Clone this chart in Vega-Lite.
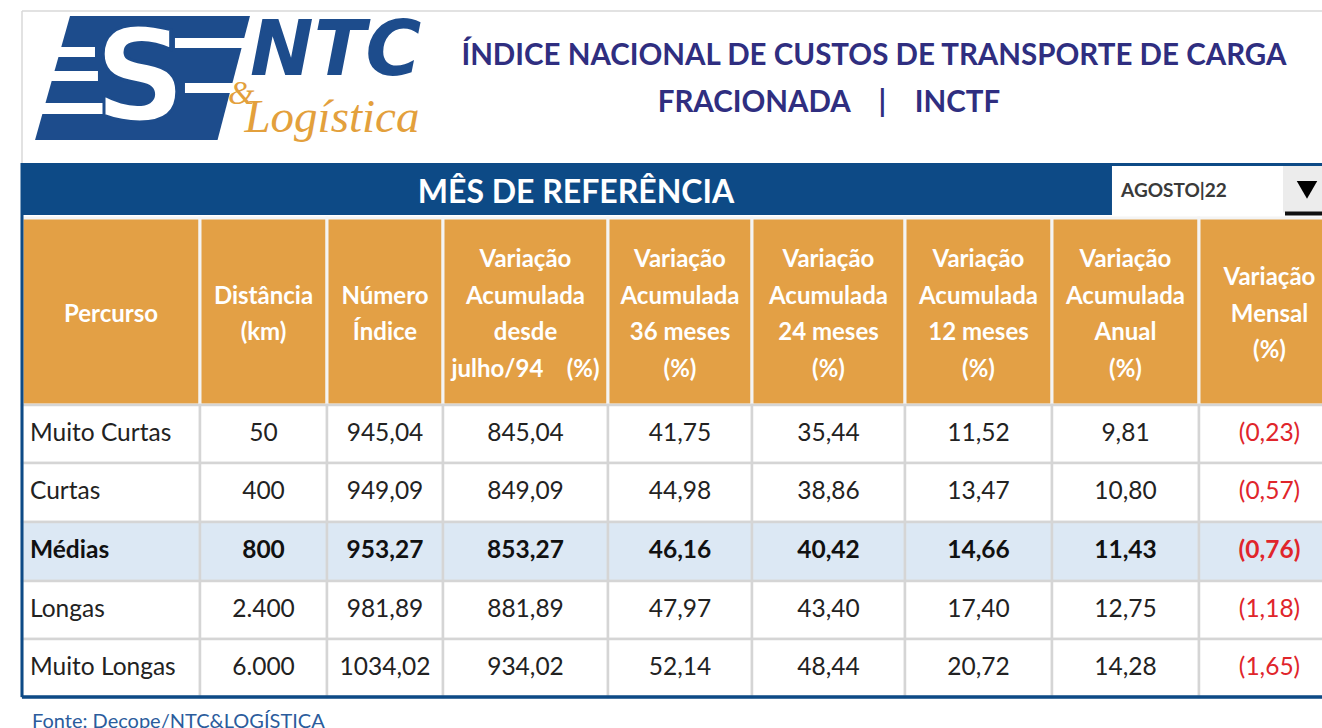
{
  "$schema": "https://vega.github.io/schema/vega-lite/v6.json",
  "width": 1322,
  "height": 728,
  "padding": 0,
  "autosize": "none",
  "background": "#ffffff",
  "config": {
    "view": {"stroke": null},
    "axis": {"disable": true},
    "locale": {"number": {"decimal": ",", "thousands": ".", "grouping": [3], "currency": ["R$ ", ""]}}
  },
  "datasets": {
    "tabela": [
      {"Percurso": "Muito Curtas", "Distancia": 50, "Numero": 945.04, "VarJul94": 845.04, "Var36": 41.75, "Var24": 35.44, "Var12": 11.52, "VarAnual": 9.81, "VarMensal": -0.23},
      {"Percurso": "Curtas", "Distancia": 400, "Numero": 949.09, "VarJul94": 849.09, "Var36": 44.98, "Var24": 38.86, "Var12": 13.47, "VarAnual": 10.80, "VarMensal": -0.57},
      {"Percurso": "Médias", "Distancia": 800, "Numero": 953.27, "VarJul94": 853.27, "Var36": 46.16, "Var24": 40.42, "Var12": 14.66, "VarAnual": 11.43, "VarMensal": -0.76},
      {"Percurso": "Longas", "Distancia": 2400, "Numero": 981.89, "VarJul94": 881.89, "Var36": 47.97, "Var24": 43.40, "Var12": 17.40, "VarAnual": 12.75, "VarMensal": -1.18},
      {"Percurso": "Muito Longas", "Distancia": 6000, "Numero": 1034.02, "VarJul94": 934.02, "Var36": 52.14, "Var24": 48.44, "Var12": 20.72, "VarAnual": 14.28, "VarMensal": -1.65}
    ],
    "colunas": [
      {"key": "Percurso", "c": 1, "fmt": "", "cabecalho": "Percurso"},
      {"key": "Distancia", "c": 2, "fmt": ",d", "cabecalho": "Distância\n(km)"},
      {"key": "Numero", "c": 3, "fmt": ".2f", "cabecalho": "Número\nÍndice"},
      {"key": "VarJul94", "c": 4, "fmt": ".2f", "cabecalho": "Variação\nAcumulada\ndesde\njulho/94\u00a0\u00a0\u00a0\u00a0(%)"},
      {"key": "Var36", "c": 5, "fmt": ".2f", "cabecalho": "Variação\nAcumulada\n36 meses\n(%)"},
      {"key": "Var24", "c": 6, "fmt": ".2f", "cabecalho": "Variação\nAcumulada\n24 meses\n(%)"},
      {"key": "Var12", "c": 7, "fmt": ".2f", "cabecalho": "Variação\nAcumulada\n12 meses\n(%)"},
      {"key": "VarAnual", "c": 8, "fmt": ".2f", "cabecalho": "Variação\nAcumulada\nAnual\n(%)"},
      {"key": "VarMensal", "c": 9, "fmt": "(.2f", "cabecalho": "Variação\nMensal\n(%)"}
    ]
  },
  "resolve": {"scale": {"x": "independent", "y": "independent"}},
  "layer": [
    {
      "data": {"values": [{}]},
      "mark": {"type": "rule", "color": "#d9d9d9", "strokeWidth": 1.5},
      "encoding": {
        "x": {"datum": 1, "type": "quantitative", "scale": {"domain": [0,1,2,3,4,5,6,7,8,9,10], "range": [0,22,200,327,443,608,752,905,1052,1199,1340], "zero": false, "nice": false}},
        "x2": {"datum": 10},
        "y": {"datum": -2.933, "type": "quantitative", "scale": {"domain": [-3,-2,-1,0,1,2,3,4,5,6,7], "range": [0,163,215,218,405,463,522,581,639,697,728], "zero": false, "nice": false}}
      }
    },
    {
      "data": {"values": [{}]},
      "mark": {"type": "rule", "color": "#d9d9d9", "strokeWidth": 1.5},
      "encoding": {
        "x": {"datum": 1, "type": "quantitative", "scale": {"domain": [0,1,2,3,4,5,6,7,8,9,10], "range": [0,22,200,327,443,608,752,905,1052,1199,1340], "zero": false, "nice": false}},
        "y": {"datum": -2.933, "type": "quantitative", "scale": {"domain": [-3,-2,-1,0,1,2,3,4,5,6,7], "range": [0,163,215,218,405,463,522,581,639,697,728], "zero": false, "nice": false}},
        "y2": {"datum": -2}
      }
    },
    {
      "data": {"values": [{}]},
      "mark": {"type": "point", "shape": "M-0.659,-0.564L0.977,-0.564L0.682,0.564L-0.977,0.564Z", "size": 48400, "filled": true, "color": "#1d4c8c", "opacity": 1, "strokeWidth": 0},
      "encoding": {
        "x": {"datum": 1.677, "type": "quantitative", "scale": {"domain": [0,1,2,3,4,5,6,7,8,9,10], "range": [0,22,200,327,443,608,752,905,1052,1199,1340], "zero": false, "nice": false}},
        "y": {"datum": -2.5215, "type": "quantitative", "scale": {"domain": [-3,-2,-1,0,1,2,3,4,5,6,7], "range": [0,163,215,218,405,463,522,581,639,697,728], "zero": false, "nice": false}}
      }
    },
    {
      "data": {"values": [{}]},
      "mark": {"type": "point", "shape": "M-0.795,-0.282H-0.432V-0.191H-0.795Z M-0.859,-0.064H-0.405V0.027H-0.859Z M0.295,-0.364H0.995V-0.273H0.295Z M0.386,0.045H0.932V0.136H0.386Z M-0.932,0.227H0.068V0.327H-0.932Z", "size": 48400, "filled": true, "color": "#ffffff", "opacity": 1, "strokeWidth": 0},
      "encoding": {
        "x": {"datum": 1.677, "type": "quantitative", "scale": {"domain": [0,1,2,3,4,5,6,7,8,9,10], "range": [0,22,200,327,443,608,752,905,1052,1199,1340], "zero": false, "nice": false}},
        "y": {"datum": -2.5215, "type": "quantitative", "scale": {"domain": [-3,-2,-1,0,1,2,3,4,5,6,7], "range": [0,163,215,218,405,463,522,581,639,697,728], "zero": false, "nice": false}}
      }
    },
    {
      "data": {"values": [{}]},
      "mark": {"type": "text", "text": "S", "font": "DejaVu Sans", "fontWeight": "bold", "fontSize": 128, "fill": "#ffffff", "stroke": "#1d4c8c", "strokeWidth": 3, "align": "center", "baseline": "alphabetic"},
      "encoding": {
        "x": {"datum": 1.663, "type": "quantitative", "scale": {"domain": [0,1,2,3,4,5,6,7,8,9,10], "range": [0,22,200,327,443,608,752,905,1052,1199,1340], "zero": false, "nice": false}},
        "y": {"datum": -2.264, "type": "quantitative", "scale": {"domain": [-3,-2,-1,0,1,2,3,4,5,6,7], "range": [0,163,215,218,405,463,522,581,639,697,728], "zero": false, "nice": false}}
      }
    },
    {
      "data": {"values": [{}]},
      "mark": {"type": "text", "text": "NTC", "font": "DejaVu Sans", "fontWeight": "bold", "fontStyle": "italic", "fontSize": 76, "fill": "#1d4c8c", "align": "left", "baseline": "alphabetic"},
      "encoding": {
        "x": {"datum": 2.394, "type": "quantitative", "scale": {"domain": [0,1,2,3,4,5,6,7,8,9,10], "range": [0,22,200,327,443,608,752,905,1052,1199,1340], "zero": false, "nice": false}},
        "y": {"datum": -2.54, "type": "quantitative", "scale": {"domain": [-3,-2,-1,0,1,2,3,4,5,6,7], "range": [0,163,215,218,405,463,522,581,639,697,728], "zero": false, "nice": false}}
      }
    },
    {
      "data": {"values": [{}]},
      "mark": {"type": "text", "text": "&", "font": "Liberation Serif", "fontStyle": "italic", "fontSize": 34, "fill": "#e3a03c", "align": "left", "baseline": "alphabetic"},
      "encoding": {
        "x": {"datum": 2.22, "type": "quantitative", "scale": {"domain": [0,1,2,3,4,5,6,7,8,9,10], "range": [0,22,200,327,443,608,752,905,1052,1199,1340], "zero": false, "nice": false}},
        "y": {"datum": -2.36, "type": "quantitative", "scale": {"domain": [-3,-2,-1,0,1,2,3,4,5,6,7], "range": [0,163,215,218,405,463,522,581,639,697,728], "zero": false, "nice": false}}
      }
    },
    {
      "data": {"values": [{}]},
      "mark": {"type": "text", "text": "Logística", "font": "Liberation Serif", "fontStyle": "italic", "fontSize": 47, "fill": "#e3a03c", "align": "left", "baseline": "alphabetic"},
      "encoding": {
        "x": {"datum": 2.35, "type": "quantitative", "scale": {"domain": [0,1,2,3,4,5,6,7,8,9,10], "range": [0,22,200,327,443,608,752,905,1052,1199,1340], "zero": false, "nice": false}},
        "y": {"datum": -2.19, "type": "quantitative", "scale": {"domain": [-3,-2,-1,0,1,2,3,4,5,6,7], "range": [0,163,215,218,405,463,522,581,639,697,728], "zero": false, "nice": false}}
      }
    },
    {
      "data": {"values": [{}]},
      "mark": {"type": "text", "text": "ÍNDICE NACIONAL DE CUSTOS DE TRANSPORTE DE CARGA", "font": "Lato", "fontWeight": "bold", "fontSize": 29.5, "fill": "#2f2e80", "align": "center", "baseline": "alphabetic"},
      "encoding": {
        "x": {"datum": 6.797, "type": "quantitative", "scale": {"domain": [0,1,2,3,4,5,6,7,8,9,10], "range": [0,22,200,327,443,608,752,905,1052,1199,1340], "zero": false, "nice": false}},
        "y": {"datum": -2.601, "type": "quantitative", "scale": {"domain": [-3,-2,-1,0,1,2,3,4,5,6,7], "range": [0,163,215,218,405,463,522,581,639,697,728], "zero": false, "nice": false}}
      }
    },
    {
      "data": {"values": [{}]},
      "mark": {"type": "text", "text": "FRACIONADA\u00a0\u00a0\u00a0\u00a0|\u00a0\u00a0\u00a0\u00a0INCTF", "font": "Lato", "fontWeight": "bold", "fontSize": 29.5, "fill": "#2f2e80", "align": "center", "baseline": "alphabetic"},
      "encoding": {
        "x": {"datum": 6.503, "type": "quantitative", "scale": {"domain": [0,1,2,3,4,5,6,7,8,9,10], "range": [0,22,200,327,443,608,752,905,1052,1199,1340], "zero": false, "nice": false}},
        "y": {"datum": -2.313, "type": "quantitative", "scale": {"domain": [-3,-2,-1,0,1,2,3,4,5,6,7], "range": [0,163,215,218,405,463,522,581,639,697,728], "zero": false, "nice": false}}
      }
    },
    {
      "data": {"values": [{}]},
      "mark": {"type": "rect", "fill": "#0d4a86"},
      "encoding": {
        "x": {"datum": 1, "type": "quantitative", "scale": {"domain": [0,1,2,3,4,5,6,7,8,9,10], "range": [0,22,200,327,443,608,752,905,1052,1199,1340], "zero": false, "nice": false}},
        "x2": {"datum": 10},
        "y": {"datum": -2, "type": "quantitative", "scale": {"domain": [-3,-2,-1,0,1,2,3,4,5,6,7], "range": [0,163,215,218,405,463,522,581,639,697,728], "zero": false, "nice": false}},
        "y2": {"datum": -1}
      }
    },
    {
      "data": {"values": [{}]},
      "mark": {"type": "text", "text": "MÊS DE REFERÊNCIA", "font": "Lato", "fontWeight": "bold", "fontSize": 32, "fill": "#ffffff", "align": "center", "baseline": "alphabetic"},
      "encoding": {
        "x": {"datum": 4.806, "type": "quantitative", "scale": {"domain": [0,1,2,3,4,5,6,7,8,9,10], "range": [0,22,200,327,443,608,752,905,1052,1199,1340], "zero": false, "nice": false}},
        "y": {"datum": -1.231, "type": "quantitative", "scale": {"domain": [-3,-2,-1,0,1,2,3,4,5,6,7], "range": [0,163,215,218,405,463,522,581,639,697,728], "zero": false, "nice": false}}
      }
    },
    {
      "data": {"values": [{}]},
      "mark": {"type": "rect", "fill": "#ffffff"},
      "encoding": {
        "x": {"datum": 8.408, "type": "quantitative", "scale": {"domain": [0,1,2,3,4,5,6,7,8,9,10], "range": [0,22,200,327,443,608,752,905,1052,1199,1340], "zero": false, "nice": false}},
        "x2": {"datum": 10},
        "y": {"datum": -1.94, "type": "quantitative", "scale": {"domain": [-3,-2,-1,0,1,2,3,4,5,6,7], "range": [0,163,215,218,405,463,522,581,639,697,728], "zero": false, "nice": false}},
        "y2": {"datum": -1}
      }
    },
    {
      "data": {"values": [{}]},
      "mark": {"type": "rect", "fill": "#ececec"},
      "encoding": {
        "x": {"datum": 9.596, "type": "quantitative", "scale": {"domain": [0,1,2,3,4,5,6,7,8,9,10], "range": [0,22,200,327,443,608,752,905,1052,1199,1340], "zero": false, "nice": false}},
        "x2": {"datum": 10},
        "y": {"datum": -1.94, "type": "quantitative", "scale": {"domain": [-3,-2,-1,0,1,2,3,4,5,6,7], "range": [0,163,215,218,405,463,522,581,639,697,728], "zero": false, "nice": false}},
        "y2": {"datum": -1.05}
      }
    },
    {
      "data": {"values": [{}]},
      "mark": {"type": "rule", "color": "#111111", "strokeWidth": 4},
      "encoding": {
        "x": {"datum": 9.61, "type": "quantitative", "scale": {"domain": [0,1,2,3,4,5,6,7,8,9,10], "range": [0,22,200,327,443,608,752,905,1052,1199,1340], "zero": false, "nice": false}},
        "x2": {"datum": 10},
        "y": {"datum": -1.03, "type": "quantitative", "scale": {"domain": [-3,-2,-1,0,1,2,3,4,5,6,7], "range": [0,163,215,218,405,463,522,581,639,697,728], "zero": false, "nice": false}}
      }
    },
    {
      "data": {"values": [{}]},
      "mark": {"type": "point", "shape": "triangle-down", "size": 420, "filled": true, "color": "#000000", "opacity": 1},
      "encoding": {
        "x": {"datum": 9.766, "type": "quantitative", "scale": {"domain": [0,1,2,3,4,5,6,7,8,9,10], "range": [0,22,200,327,443,608,752,905,1052,1199,1340], "zero": false, "nice": false}},
        "y": {"datum": -1.481, "type": "quantitative", "scale": {"domain": [-3,-2,-1,0,1,2,3,4,5,6,7], "range": [0,163,215,218,405,463,522,581,639,697,728], "zero": false, "nice": false}}
      }
    },
    {
      "data": {"values": [{}]},
      "mark": {"type": "text", "text": "AGOSTO|22", "font": "Lato", "fontWeight": "bold", "fontSize": 19, "fill": "#3a3a3a", "align": "left", "baseline": "alphabetic"},
      "encoding": {
        "x": {"datum": 8.47, "type": "quantitative", "scale": {"domain": [0,1,2,3,4,5,6,7,8,9,10], "range": [0,22,200,327,443,608,752,905,1052,1199,1340], "zero": false, "nice": false}},
        "y": {"datum": -1.346, "type": "quantitative", "scale": {"domain": [-3,-2,-1,0,1,2,3,4,5,6,7], "range": [0,163,215,218,405,463,522,581,639,697,728], "zero": false, "nice": false}}
      }
    },
    {
      "data": {"name": "colunas"},
      "transform": [{"calculate": "datum.c + 1", "as": "c1"}],
      "mark": {"type": "rect", "fill": "#e3a045", "stroke": "#f4f4f4", "strokeWidth": 3},
      "encoding": {
        "x": {"field": "c", "type": "quantitative", "scale": {"domain": [0,1,2,3,4,5,6,7,8,9,10], "range": [0,22,200,327,443,608,752,905,1052,1199,1340], "zero": false, "nice": false}},
        "x2": {"field": "c1"},
        "y": {"datum": 0, "type": "quantitative", "scale": {"domain": [-3,-2,-1,0,1,2,3,4,5,6,7], "range": [0,163,215,218,405,463,522,581,639,697,728], "zero": false, "nice": false}},
        "y2": {"datum": 1}
      }
    },
    {
      "data": {"name": "colunas"},
      "transform": [
        {"calculate": "datum.c + 0.5", "as": "cm"},
        {"calculate": "0.5187 - (length(split(datum.cabecalho, '\\n')) - 1) * 0.09759", "as": "yh"}
      ],
      "mark": {"type": "text", "font": "Lato", "fontWeight": "bold", "fontSize": 24, "fill": "#ffffff", "lineBreak": "\n", "lineHeight": 36.5, "align": "center", "baseline": "middle"},
      "encoding": {
        "x": {"field": "cm", "type": "quantitative", "scale": {"domain": [0,1,2,3,4,5,6,7,8,9,10], "range": [0,22,200,327,443,608,752,905,1052,1199,1340], "zero": false, "nice": false}},
        "y": {"field": "yh", "type": "quantitative", "scale": {"domain": [-3,-2,-1,0,1,2,3,4,5,6,7], "range": [0,163,215,218,405,463,522,581,639,697,728], "zero": false, "nice": false}},
        "text": {"field": "cabecalho", "type": "nominal"}
      }
    },
    {
      "data": {"name": "tabela"},
      "transform": [
        {"window": [{"op": "row_number", "as": "n"}]},
        {"fold": ["Percurso", "Distancia", "Numero", "VarJul94", "Var36", "Var24", "Var12", "VarAnual", "VarMensal"], "as": ["key", "valor"]},
        {"lookup": "key", "from": {"data": {"name": "colunas"}, "key": "key", "fields": ["c"]}},
        {"calculate": "datum.c + 1", "as": "c1"},
        {"calculate": "datum.n + 1", "as": "n1"}
      ],
      "mark": {"type": "rect", "stroke": "#d5d5d5", "strokeWidth": 2.5},
      "encoding": {
        "x": {"field": "c", "type": "quantitative", "scale": {"domain": [0,1,2,3,4,5,6,7,8,9,10], "range": [0,22,200,327,443,608,752,905,1052,1199,1340], "zero": false, "nice": false}},
        "x2": {"field": "c1"},
        "y": {"field": "n", "type": "quantitative", "scale": {"domain": [-3,-2,-1,0,1,2,3,4,5,6,7], "range": [0,163,215,218,405,463,522,581,639,697,728], "zero": false, "nice": false}},
        "y2": {"field": "n1"},
        "fill": {"condition": {"test": "datum.Percurso === 'Médias'", "value": "#dce8f4"}, "value": "#ffffff"}
      }
    },
    {
      "data": {"name": "tabela"},
      "transform": [
        {"window": [{"op": "row_number", "as": "n"}]},
        {"filter": "datum.Percurso !== 'Médias'"},
        {"fold": ["Distancia", "Numero", "VarJul94", "Var36", "Var24", "Var12", "VarAnual", "VarMensal"], "as": ["key", "valor"]},
        {"lookup": "key", "from": {"data": {"name": "colunas"}, "key": "key", "fields": ["c", "fmt"]}},
        {"calculate": "datum.c + 0.5", "as": "cm"},
        {"calculate": "format(datum.valor, datum.fmt)", "as": "txt"}
      ],
      "mark": {"type": "text", "font": "Lato", "fontSize": 24.5, "align": "center", "baseline": "middle", "dy": 29},
      "encoding": {
        "x": {"field": "cm", "type": "quantitative", "scale": {"domain": [0,1,2,3,4,5,6,7,8,9,10], "range": [0,22,200,327,443,608,752,905,1052,1199,1340], "zero": false, "nice": false}},
        "y": {"field": "n", "type": "quantitative", "scale": {"domain": [-3,-2,-1,0,1,2,3,4,5,6,7], "range": [0,163,215,218,405,463,522,581,639,697,728], "zero": false, "nice": false}},
        "text": {"field": "txt", "type": "nominal"},
        "color": {"condition": {"test": "datum.key === 'VarMensal'", "value": "#e0252b"}, "value": "#222222"}
      }
    },
    {
      "data": {"name": "tabela"},
      "transform": [
        {"window": [{"op": "row_number", "as": "n"}]},
        {"filter": "datum.Percurso === 'Médias'"},
        {"fold": ["Distancia", "Numero", "VarJul94", "Var36", "Var24", "Var12", "VarAnual", "VarMensal"], "as": ["key", "valor"]},
        {"lookup": "key", "from": {"data": {"name": "colunas"}, "key": "key", "fields": ["c", "fmt"]}},
        {"calculate": "datum.c + 0.5", "as": "cm"},
        {"calculate": "format(datum.valor, datum.fmt)", "as": "txt"}
      ],
      "mark": {"type": "text", "font": "Lato", "fontWeight": "bold", "fontSize": 24.5, "align": "center", "baseline": "middle", "dy": 29},
      "encoding": {
        "x": {"field": "cm", "type": "quantitative", "scale": {"domain": [0,1,2,3,4,5,6,7,8,9,10], "range": [0,22,200,327,443,608,752,905,1052,1199,1340], "zero": false, "nice": false}},
        "y": {"field": "n", "type": "quantitative", "scale": {"domain": [-3,-2,-1,0,1,2,3,4,5,6,7], "range": [0,163,215,218,405,463,522,581,639,697,728], "zero": false, "nice": false}},
        "text": {"field": "txt", "type": "nominal"},
        "color": {"condition": {"test": "datum.key === 'VarMensal'", "value": "#e0252b"}, "value": "#111111"}
      }
    },
    {
      "data": {"name": "tabela"},
      "transform": [
        {"window": [{"op": "row_number", "as": "n"}]},
        {"filter": "datum.Percurso !== 'Médias'"}
      ],
      "mark": {"type": "text", "font": "Lato", "fontSize": 24.5, "align": "left", "baseline": "middle", "dx": 8, "dy": 29, "fill": "#222222"},
      "encoding": {
        "x": {"datum": 1, "type": "quantitative", "scale": {"domain": [0,1,2,3,4,5,6,7,8,9,10], "range": [0,22,200,327,443,608,752,905,1052,1199,1340], "zero": false, "nice": false}},
        "y": {"field": "n", "type": "quantitative", "scale": {"domain": [-3,-2,-1,0,1,2,3,4,5,6,7], "range": [0,163,215,218,405,463,522,581,639,697,728], "zero": false, "nice": false}},
        "text": {"field": "Percurso", "type": "nominal"}
      }
    },
    {
      "data": {"name": "tabela"},
      "transform": [
        {"window": [{"op": "row_number", "as": "n"}]},
        {"filter": "datum.Percurso === 'Médias'"}
      ],
      "mark": {"type": "text", "font": "Lato", "fontWeight": "bold", "fontSize": 24.5, "align": "left", "baseline": "middle", "dx": 8, "dy": 29, "fill": "#111111"},
      "encoding": {
        "x": {"datum": 1, "type": "quantitative", "scale": {"domain": [0,1,2,3,4,5,6,7,8,9,10], "range": [0,22,200,327,443,608,752,905,1052,1199,1340], "zero": false, "nice": false}},
        "y": {"field": "n", "type": "quantitative", "scale": {"domain": [-3,-2,-1,0,1,2,3,4,5,6,7], "range": [0,163,215,218,405,463,522,581,639,697,728], "zero": false, "nice": false}},
        "text": {"field": "Percurso", "type": "nominal"}
      }
    },
    {
      "data": {"values": [{}]},
      "mark": {"type": "rule", "color": "#0d4a86", "strokeWidth": 3},
      "encoding": {
        "x": {"datum": 1, "type": "quantitative", "scale": {"domain": [0,1,2,3,4,5,6,7,8,9,10], "range": [0,22,200,327,443,608,752,905,1052,1199,1340], "zero": false, "nice": false}},
        "y": {"datum": -2, "type": "quantitative", "scale": {"domain": [-3,-2,-1,0,1,2,3,4,5,6,7], "range": [0,163,215,218,405,463,522,581,639,697,728], "zero": false, "nice": false}},
        "y2": {"datum": 6}
      }
    },
    {
      "data": {"values": [{}]},
      "mark": {"type": "rule", "color": "#0d4a86", "strokeWidth": 3.5},
      "encoding": {
        "x": {"datum": 1, "type": "quantitative", "scale": {"domain": [0,1,2,3,4,5,6,7,8,9,10], "range": [0,22,200,327,443,608,752,905,1052,1199,1340], "zero": false, "nice": false}},
        "x2": {"datum": 10},
        "y": {"datum": 6, "type": "quantitative", "scale": {"domain": [-3,-2,-1,0,1,2,3,4,5,6,7], "range": [0,163,215,218,405,463,522,581,639,697,728], "zero": false, "nice": false}}
      }
    },
    {
      "data": {"values": [{}]},
      "mark": {"type": "text", "text": "Fonte: Decope/NTC&LOGÍSTICA", "font": "Lato", "fontSize": 20, "fill": "#2b5c9c", "align": "left", "baseline": "alphabetic"},
      "encoding": {
        "x": {"datum": 1.056, "type": "quantitative", "scale": {"domain": [0,1,2,3,4,5,6,7,8,9,10], "range": [0,22,200,327,443,608,752,905,1052,1199,1340], "zero": false, "nice": false}},
        "y": {"datum": 7.0, "type": "quantitative", "scale": {"domain": [-3,-2,-1,0,1,2,3,4,5,6,7], "range": [0,163,215,218,405,463,522,581,639,697,728], "zero": false, "nice": false}}
      }
    }
  ]
}
